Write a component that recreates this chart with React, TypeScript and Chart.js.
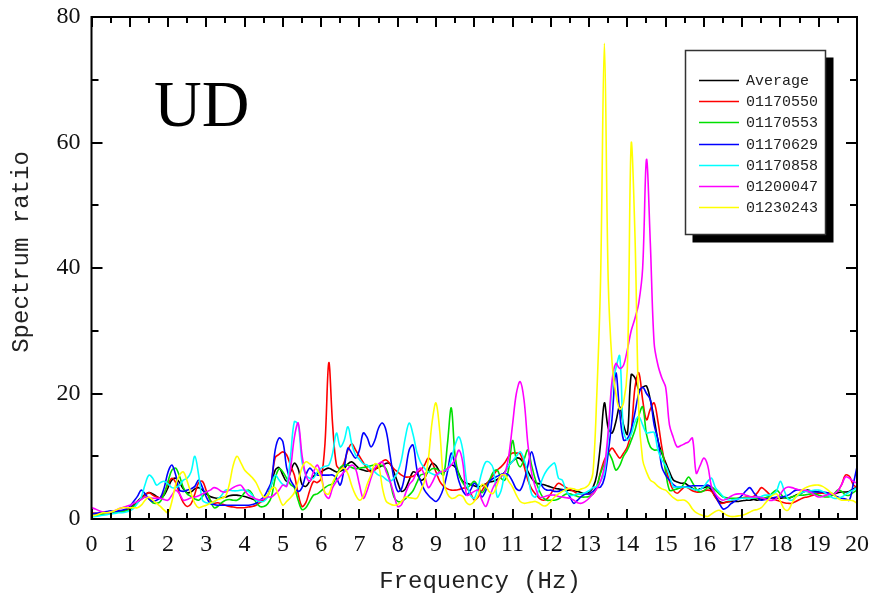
import React, { useEffect, useRef } from "react";
import { Chart, registerables } from "chart.js";

Chart.register(...registerables);

// Frequency grid (Hz), 0.1 Hz sampling
const freq: number[] = Array.from({ length: 201 }, (_, i) => i / 10);

const seriesNames = ["Average", "01170550", "01170553", "01170629", "01170858", "01200047", "01230243"];
const seriesColors = ["#000000", "#ff0000", "#00e000", "#0000ff", "#00ffff", "#ff00ff", "#ffff00"];

const average = [
  0.5,0.6,0.7,0.8,0.9,1.0,1.0,1.1,1.2,1.4,
  1.7,2.2,2.8,3.4,3.9,4.2,4.0,3.6,3.3,3.8,
  5.0,6.2,6.5,5.8,4.8,4.2,4.3,4.8,5.0,4.6,
  4.0,3.6,3.4,3.3,3.4,3.5,3.7,3.8,3.8,3.7,
  3.6,3.4,3.2,3.0,2.9,3.0,3.6,5.5,7.8,8.2,
  7.0,6.0,7.5,8.9,8.0,5.5,5.2,6.0,6.8,7.3,
  7.5,7.9,8.1,7.8,7.5,7.6,8.0,8.8,9.1,8.6,
  8.0,7.8,7.6,7.8,8.0,8.2,8.5,8.9,8.8,7.5,
  5.8,4.4,4.8,6.2,7.5,7.2,6.2,6.5,7.8,8.9,
  8.5,7.6,7.5,8.0,8.6,8.3,7.2,6.0,5.7,5.5,
  5.3,5.1,5.3,5.6,5.9,6.0,6.3,6.8,7.5,8.5,
  9.2,9.7,9.6,8.8,7.6,6.5,5.8,5.6,5.5,5.3,
  5.1,4.9,4.8,4.7,4.6,4.6,4.5,4.4,4.2,4.0,
  4.3,5.0,7.0,12.0,18.5,14.5,13.7,15.5,17.9,15.0,
  13.5,23.0,22.5,20.6,21.0,21.2,19.0,16.0,12.5,10.5,
  9.0,7.5,6.2,5.9,5.7,5.7,5.3,4.9,4.6,4.8,
  5.0,5.1,4.6,3.5,2.8,2.6,2.7,2.8,2.8,2.8,
  2.9,3.0,3.0,3.1,3.0,3.1,3.2,3.3,3.3,3.3,
  3.3,3.4,3.3,3.5,3.8,4.0,4.3,4.6,4.5,4.4,
  4.3,4.2,4.1,4.1,4.0,4.2,4.3,4.3,4.4,4.8,
  5.1,
];

const s01170550 = [
  1.0,0.9,0.8,0.9,1.0,1.0,1.1,1.1,1.2,1.3,
  1.6,2.0,2.6,3.2,3.8,4.2,3.8,3.5,3.4,4.2,
  5.5,6.5,5.8,4.0,2.6,2.0,2.4,4.0,5.8,6.0,
  4.5,3.0,2.5,2.6,2.4,2.2,2.0,1.9,1.8,1.8,
  1.8,1.9,2.0,2.2,2.6,3.0,3.6,6.0,9.8,10.3,
  10.7,10.2,8.5,7.0,4.0,2.0,2.6,4.5,6.0,5.8,
  6.5,12.0,24.9,15.0,8.6,8.0,9.0,11.0,12.0,11.0,
  10.0,9.0,8.0,7.5,7.8,8.5,9.2,9.4,8.8,8.0,
  7.5,7.0,6.7,6.7,6.8,7.3,7.8,8.6,9.7,9.0,
  7.5,6.0,5.2,4.8,4.6,4.6,4.7,4.9,4.9,4.2,
  3.0,3.5,4.5,5.5,6.2,7.0,7.8,8.3,9.0,10.0,
  10.5,10.5,10.4,8.5,6.2,4.8,4.0,3.3,3.0,3.2,
  4.0,5.0,5.7,5.4,5.0,4.7,4.4,4.0,4.0,4.0,
  4.0,4.0,5.0,7.5,9.4,10.5,11.3,10.5,9.7,10.5,
  11.5,14.0,21.0,23.3,19.0,15.8,17.5,18.5,15.5,11.5,
  8.3,6.0,4.6,4.1,4.6,5.1,4.9,4.5,4.3,4.3,
  4.5,4.6,4.4,3.5,2.6,2.5,2.7,2.9,3.1,3.3,
  3.4,3.5,3.5,3.6,4.2,5.0,4.6,4.0,3.2,3.0,
  2.8,2.6,2.5,2.5,2.8,3.1,3.4,3.5,3.7,3.9,
  4.1,4.1,4.0,4.0,4.0,4.5,5.5,7.0,6.8,5.5,
  5.0,
];

const s01170553 = [
  0.5,0.6,0.7,0.8,0.9,1.0,1.0,1.1,1.2,1.3,
  1.5,2.0,2.6,3.2,3.5,3.2,2.6,2.5,2.8,4.0,
  6.0,7.8,8.1,6.8,5.0,4.0,3.6,3.2,3.0,3.6,
  4.4,3.0,1.8,2.0,2.6,3.0,3.1,3.0,3.0,3.4,
  4.2,4.6,4.0,2.6,2.0,2.0,2.4,3.5,6.5,8.0,
  7.5,6.5,5.5,5.0,3.0,1.5,1.8,2.8,3.8,4.0,
  4.5,5.0,5.4,5.6,6.8,8.2,8.6,8.6,8.2,8.0,
  8.1,8.2,8.3,8.5,8.6,8.6,8.5,8.0,6.0,3.5,
  2.8,2.8,3.2,3.8,4.5,5.8,7.0,7.2,7.5,8.0,
  8.0,7.5,7.0,12.0,17.7,10.0,7.0,5.8,5.0,5.4,
  6.0,5.2,4.2,5.0,6.2,7.5,7.8,6.5,6.2,8.0,
  12.5,9.5,8.3,9.5,11.0,8.5,6.2,4.5,3.4,3.0,
  3.0,3.0,3.2,3.6,4.0,4.0,3.8,3.6,3.5,3.5,
  3.6,4.0,5.2,7.3,8.8,10.5,9.5,7.8,8.5,10.0,
  11.0,12.5,14.2,16.5,17.9,13.5,11.5,11.0,11.0,10.8,
  7.5,4.6,4.6,4.8,5.0,5.8,6.7,5.8,4.8,4.3,
  4.5,5.0,5.1,4.6,4.0,3.5,3.4,3.3,3.3,3.3,
  3.3,3.3,3.3,3.3,3.3,3.3,3.4,3.6,4.2,4.6,
  4.0,3.4,3.3,3.5,3.7,3.8,3.8,3.9,4.0,4.0,
  3.8,3.6,3.5,3.6,4.0,4.6,4.4,3.8,3.8,4.2,
  4.6,
];

const s01170629 = [
  0.8,0.9,1.0,1.1,1.2,1.3,1.2,1.3,1.4,1.6,
  2.0,2.8,3.6,4.6,4.0,3.2,2.8,3.0,3.4,5.0,
  7.5,8.6,7.0,4.6,4.4,4.6,4.8,5.2,6.2,5.0,
  3.5,2.5,2.3,2.2,2.2,2.2,2.2,2.2,2.2,2.2,
  2.2,2.2,2.3,2.5,3.0,3.5,4.6,6.0,11.0,12.9,
  12.3,8.1,6.2,5.2,4.4,5.0,7.0,8.1,7.5,7.0,
  7.0,7.0,7.0,7.0,6.5,5.4,8.0,11.3,10.5,9.7,
  11.0,13.7,13.0,11.5,12.5,14.5,15.3,14.0,10.2,6.5,
  4.4,4.8,7.5,11.0,11.8,8.0,6.0,4.6,3.8,3.2,
  2.8,3.5,5.0,7.5,10.5,8.5,6.0,4.5,3.8,4.6,
  5.7,5.0,3.5,4.5,6.0,6.5,6.8,7.1,7.3,7.0,
  6.0,4.8,4.6,6.0,8.5,10.7,8.5,6.2,5.0,4.6,
  4.6,4.4,4.4,4.6,4.5,3.5,2.5,3.0,3.6,4.0,
  4.0,4.4,5.0,5.1,6.5,10.5,16.0,23.3,17.0,12.6,
  12.8,14.2,17.0,20.0,21.0,20.0,19.0,15.0,12.6,8.3,
  7.0,6.2,5.5,5.1,5.1,5.1,5.2,5.3,5.3,5.3,
  5.3,5.4,5.0,3.8,2.5,1.6,1.8,2.4,2.8,3.2,
  3.8,4.5,5.0,4.2,3.5,3.0,3.1,3.3,3.4,3.5,
  3.5,3.6,3.8,4.2,4.6,4.6,4.5,4.4,4.3,4.3,
  4.3,4.3,4.2,4.0,3.8,3.5,3.3,3.2,3.0,5.5,
  8.3,
];

const s01170858 = [
  0.3,0.4,0.5,0.6,0.7,0.8,0.9,1.0,1.0,1.1,
  1.3,1.7,2.5,3.5,5.5,7.0,6.5,5.4,5.8,6.0,
  5.6,5.0,5.0,5.4,6.2,6.5,7.5,10.0,7.0,3.0,
  2.6,2.5,2.7,3.2,3.8,4.6,4.6,4.5,4.5,4.6,
  4.6,4.4,3.8,3.0,2.8,2.8,3.5,5.5,7.0,6.2,
  5.5,5.4,10.0,15.5,15.0,9.1,7.0,6.5,6.5,7.5,
  8.1,8.4,8.6,10.5,13.7,11.5,12.5,14.7,12.0,10.2,
  9.5,8.8,8.6,8.0,7.5,7.0,6.8,6.3,6.0,6.5,
  7.5,9.5,13.0,15.3,13.5,10.7,9.0,8.1,7.5,7.2,
  7.0,7.3,7.8,7.8,9.5,11.8,13.1,11.0,6.0,3.8,
  3.3,5.1,7.5,9.1,9.0,8.0,3.5,4.5,7.3,8.5,
  9.2,10.0,10.7,9.5,7.0,4.0,3.5,5.0,6.7,7.8,
  8.5,8.9,6.5,6.2,4.5,3.8,3.8,4.0,4.0,4.2,
  4.5,5.0,5.2,6.0,7.3,13.0,21.0,24.0,26.0,14.0,
  12.6,13.5,15.5,16.3,15.0,13.7,13.8,13.8,11.0,9.4,
  8.5,7.0,5.1,5.1,5.1,5.1,5.0,4.8,4.6,4.7,
  5.2,6.0,6.5,5.0,4.3,3.6,3.1,3.0,3.1,3.2,
  3.3,3.3,3.3,3.4,3.5,3.6,3.8,3.8,3.9,4.5,
  6.0,4.5,3.2,3.0,3.5,4.0,4.3,4.4,4.5,4.6,
  4.6,4.4,4.0,3.6,3.3,3.3,3.5,3.9,4.3,4.6,
  5.0,
];

const s01200047 = [
  1.8,1.6,1.3,1.1,1.0,1.1,1.3,1.6,1.8,2.0,
  2.2,2.5,2.8,3.1,3.5,3.4,3.3,3.3,3.3,3.1,
  3.0,3.8,4.6,4.0,3.0,3.1,3.4,3.5,3.7,4.0,
  4.3,4.6,5.0,4.8,4.4,4.3,4.6,5.0,5.3,5.4,
  4.6,3.8,3.5,3.2,3.0,3.2,3.5,3.5,4.0,4.6,
  5.4,5.2,8.0,13.0,15.3,10.2,7.0,6.0,7.5,8.6,
  7.0,4.0,3.3,5.0,6.0,6.8,7.5,8.0,8.6,8.0,
  5.5,3.3,4.5,6.5,8.1,8.8,9.1,7.5,6.0,4.0,
  2.0,2.3,4.0,5.5,6.2,7.5,8.1,7.0,5.0,5.8,
  7.0,7.5,7.6,8.0,8.6,9.5,11.0,9.0,3.8,4.0,
  4.4,4.6,3.0,2.0,3.5,5.1,6.0,6.8,7.3,10.0,
  15.0,20.0,21.9,19.0,12.0,7.3,5.0,3.5,3.5,3.7,
  3.8,3.8,3.6,3.5,3.4,3.3,3.0,2.6,2.5,2.8,
  3.3,4.0,4.8,6.0,8.3,14.0,22.0,24.8,24.0,24.5,
  27.0,30.0,32.0,34.5,40.0,57.3,44.0,28.0,24.5,22.5,
  21.0,15.0,13.0,11.5,11.7,12.0,12.3,12.9,7.3,8.5,
  9.7,8.5,5.1,4.0,3.3,3.0,3.2,3.6,3.9,4.0,
  4.0,3.8,3.6,3.5,3.5,3.4,3.2,3.0,3.0,3.3,
  4.0,4.8,5.1,5.0,4.8,4.6,4.6,4.5,4.2,3.8,
  3.5,3.6,3.8,4.0,4.0,4.5,5.5,6.7,6.5,6.0,
  5.7,
];

const s01230243 = [
  0.5,0.6,0.8,1.0,1.0,1.1,1.3,1.6,1.8,1.8,
  1.8,1.8,1.8,2.2,3.0,3.5,3.0,2.5,2.0,1.4,
  1.0,2.8,5.5,7.0,7.5,6.0,4.1,2.5,1.8,2.0,
  2.2,2.5,2.8,3.1,3.3,3.6,5.5,8.5,10.0,9.0,
  7.8,7.2,6.6,5.8,4.5,3.5,3.8,4.8,5.0,3.5,
  2.2,2.8,3.4,4.2,6.0,8.2,9.1,8.8,8.3,7.8,
  6.5,4.2,4.0,5.8,7.0,7.8,8.1,7.2,5.3,3.8,
  3.0,3.6,5.5,7.0,8.8,8.5,5.0,2.8,2.4,2.2,
  2.3,2.8,3.5,3.4,3.3,3.3,4.5,6.0,9.5,15.5,
  18.5,13.9,6.0,4.0,3.3,3.4,3.8,3.6,2.6,2.3,
  2.8,3.8,5.5,5.2,4.3,4.1,5.5,7.0,7.0,6.0,
  5.1,3.8,2.8,2.5,2.6,2.7,2.8,2.5,2.1,2.2,
  2.8,3.5,4.0,4.4,4.7,4.9,4.8,4.6,4.8,5.0,
  5.5,7.3,19.5,38.0,75.8,38.0,25.0,20.0,17.5,18.5,
  24.0,59.8,45.0,17.0,9.4,7.5,6.2,5.8,5.2,4.8,
  4.6,4.0,3.4,3.0,3.0,3.0,2.5,1.6,1.0,0.7,
  0.5,0.4,0.8,1.2,1.4,1.0,0.6,0.4,0.4,0.5,
  0.6,0.8,1.1,1.4,1.5,1.8,2.5,3.2,3.8,4.0,
  2.8,1.6,1.4,2.5,3.5,4.2,4.8,5.1,5.3,5.4,
  5.4,5.2,4.8,4.3,3.8,3.3,3.0,3.0,3.0,2.9,
  2.5,
];

const seriesValues = [average, s01170550, s01170553, s01170629, s01170858, s01200047, s01230243];

const xTickValues = [0, 1, 2, 3, 4, 5, 6, 7, 8, 9, 10, 11, 12, 13, 14, 15, 16, 17, 18, 19, 20];
const yTickValues = [0, 20, 40, 60, 80];

const W = 871;
const H = 597;

const framePlugin = {
  id: "frameTicks",
  afterDatasetsDraw(chart: any) {
    const { ctx, chartArea, scales } = chart;
    const { left, right, top, bottom } = chartArea;
    const x = scales.x;
    const y = scales.y;
    ctx.save();
    ctx.strokeStyle = "#000";
    ctx.lineWidth = 2;
    ctx.beginPath();
    ctx.rect(left, top, right - left, bottom - top);
    ctx.stroke();
    ctx.beginPath();
    for (let k = 0; k <= 40; k++) {
      const v = k * 0.5;
      const px = Math.round(x.getPixelForValue(v));
      const len = k % 2 === 0 ? 10 : 6;
      ctx.moveTo(px, bottom);
      ctx.lineTo(px, bottom - len);
      ctx.moveTo(px, top);
      ctx.lineTo(px, top + len);
    }
    for (let k = 0; k <= 8; k++) {
      const v = k * 10;
      const py = Math.round(y.getPixelForValue(v));
      const len = k % 2 === 0 ? 11 : 7;
      ctx.moveTo(left, py);
      ctx.lineTo(left + len, py);
      ctx.moveTo(right, py);
      ctx.lineTo(right - len, py);
    }
    ctx.stroke();
    ctx.restore();
  },
  afterDraw(chart: any) {
    const { ctx } = chart;
    ctx.save();
    ctx.fillStyle = "#000";
    ctx.font = '66px "Liberation Serif"';
    ctx.textAlign = "left";
    ctx.textBaseline = "alphabetic";
    ctx.fillText("UD", 154, 126);

    ctx.fillStyle = "#222";
    ctx.font = '24px "Liberation Mono"';
    ctx.textAlign = "center";
    ctx.textBaseline = "middle";
    ctx.fillText("Frequency (Hz)", 480, 582);
    ctx.save();
    ctx.translate(22, 252);
    ctx.rotate(-Math.PI / 2);
    ctx.fillText("Spectrum ratio", 0, 0);
    ctx.restore();

    const bx = 685.5, by = 50.5, bw = 140, bh = 184;
    ctx.fillStyle = "#000";
    ctx.fillRect(bx + 7, by + 7, bw + 1, bh + 1);
    ctx.fillStyle = "#fff";
    ctx.fillRect(bx, by, bw, bh);
    ctx.strokeStyle = "#333";
    ctx.lineWidth = 1.5;
    ctx.strokeRect(bx, by, bw, bh);
    ctx.font = '15px "Liberation Mono"';
    ctx.textAlign = "left";
    ctx.textBaseline = "middle";
    chart.data.datasets.forEach((ds: any, i: number) => {
      const yy = 80 + i * 21.2;
      ctx.strokeStyle = ds.borderColor;
      ctx.lineWidth = 1.5;
      ctx.beginPath();
      ctx.moveTo(699, Math.round(yy) + 0.5);
      ctx.lineTo(739, Math.round(yy) + 0.5);
      ctx.stroke();
      ctx.fillStyle = "#222";
      ctx.fillText(ds.label, 746, yy + 1);
    });
    ctx.restore();
  },
};

export default function App() {
  const canvasRef = useRef<HTMLCanvasElement | null>(null);

  useEffect(() => {
    document.body.style.margin = "0";
    const canvas = canvasRef.current;
    if (!canvas) return;
    const datasets = seriesNames.map((name, i) => ({
      label: name,
      data: freq.map((f, j) => ({ x: f, y: seriesValues[i][j] })),
      borderColor: seriesColors[i],
      backgroundColor: seriesColors[i],
      borderWidth: 1.6,
      pointRadius: 0,
      fill: false,
      tension: 0.35,
      order: seriesNames.length - i,
    }));
    const chart = new Chart(canvas, {
      type: "line",
      data: { datasets },
      options: {
        animation: false,
        responsive: false,
        devicePixelRatio: 1,
        layout: { padding: { top: 17, right: 14, left: 0, bottom: 0 } },
        plugins: { legend: { display: false }, tooltip: { enabled: false } },
        scales: {
          x: {
            type: "linear",
            min: 0,
            max: 20,
            afterBuildTicks: (s: any) => {
              s.ticks = xTickValues.map((v) => ({ value: v }));
            },
            afterFit: (s: any) => {
              s.height = 78;
              s.paddingLeft = 0;
              s.paddingRight = 0;
            },
            grid: { display: false, drawTicks: false },
            border: { display: false },
            ticks: {
              color: "#111",
              font: { family: "Liberation Serif", size: 24 },
              padding: 11,
              maxRotation: 0,
              autoSkip: false,
            },
          },
          y: {
            type: "linear",
            min: 0,
            max: 80,
            afterBuildTicks: (s: any) => {
              s.ticks = yTickValues.map((v) => ({ value: v }));
            },
            afterFit: (s: any) => {
              s.width = 91.5;
              s.paddingTop = 0;
              s.paddingBottom = 0;
            },
            grid: { display: false, drawTicks: false },
            border: { display: false },
            ticks: {
              color: "#111",
              font: { family: "Liberation Serif", size: 24 },
              padding: 11,
              autoSkip: false,
            },
          },
        },
      },
      plugins: [framePlugin],
    });
    return () => chart.destroy();
  }, []);

  return (
    <div style={{ width: W, height: H, background: "#fff" }}>
      <canvas ref={canvasRef} width={W} height={H} style={{ display: "block" }} />
    </div>
  );
}
